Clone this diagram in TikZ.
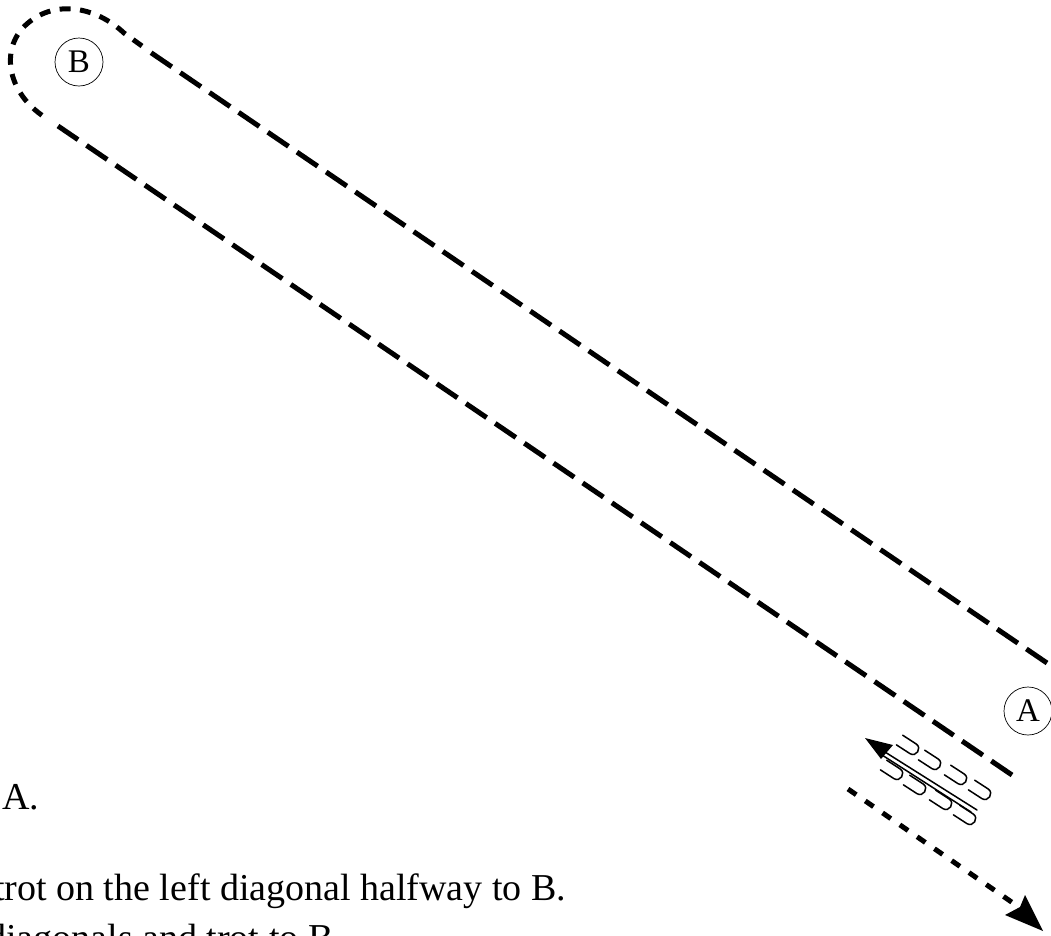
\documentclass[tikz,border=0pt]{standalone}
\usepackage{fontspec}
\setmainfont{Liberation Serif}
\newcommand{\hoofmark}[2]{%
  \begin{scope}[shift={(#1,#2)},rotate=-33]
    \draw[hoofline] (-22,-5.75) -- (-6,-5.75) .. controls (1.5,-5.75) and (1.5,5.75) .. (-6,5.75) -- (-22,5.75);
  \end{scope}}
\tikzset{
  x=1pt,y=-1pt,
  station/.style={circle,draw,line width=0.7pt,minimum size=48pt,inner sep=0pt,font=\fontsize{33}{33}\selectfont},
  longdash/.style={line width=5pt,dash pattern=on 25pt off 10.3pt},
  shortdash/.style={line width=5pt,dash pattern=on 11pt off 9.5pt},
  trotdash/.style={line width=5pt,dash pattern=on 10pt off 11pt},
  hoofline/.style={line width=1.5pt,line cap=round},
  bodytext/.style={anchor=base west,inner sep=0pt,font=\fontsize{38}{38}\selectfont},
}
\begin{document}
\begin{tikzpicture}
\useasboundingbox (0,0) rectangle (1051,935);
\clip (0,0) rectangle (1051,935);
\node[bodytext] (t1) at (2,809) {A.};
\node[bodytext] (t2) at (-6,900) {trot on the left diagonal halfway to B.};
\node[bodytext] (t3) at (-13,950) {diagonals and trot to B.};
\node[station] (B) at (79,62) {B};
\node[station] (A) at (1028,711) {A};
\coordinate (topEnd) at (1047,663);
\coordinate (topStart) at (150,52);
\coordinate (curveEnd) at (142,46);
\coordinate (curveStart) at (46,118);
\coordinate (botStart) at (58,126);
\coordinate (botEnd) at (1012,775);
\draw[longdash] (topEnd) -- (topStart);
\draw[longdash] (botEnd) -- (botStart);
\draw[shortdash] (curveEnd) -- (124,33) .. controls (95,6) and (55,0) .. (28,23) .. controls (0,46) and (5,92) .. (curveStart);
\coordinate (walkTail) at (848,789);
\coordinate (walkHead) at (1013,903);
\draw[trotdash] (walkTail) -- (walkHead);
\fill (1043,931) -- (1025,895) -- (1020,907) -- (1005,915) -- cycle;
\coordinate (twoA) at (977,810);
\coordinate (twoB) at (885,752);
\coordinate (twoC) at (971,812);
\coordinate (twoD) at (882,755);
\draw[hoofline] (twoA) -- (twoB);
\draw[hoofline] (twoC) -- (twoD);
\fill (865,738) -- (893,745) -- (881,759) -- cycle;
\hoofmark{918}{752}
\hoofmark{940}{767}
\hoofmark{966}{782}
\hoofmark{990}{797}
\hoofmark{902}{777}
\hoofmark{925}{792}
\hoofmark{951}{807}
\hoofmark{975}{822}
\end{tikzpicture}
\end{document}
